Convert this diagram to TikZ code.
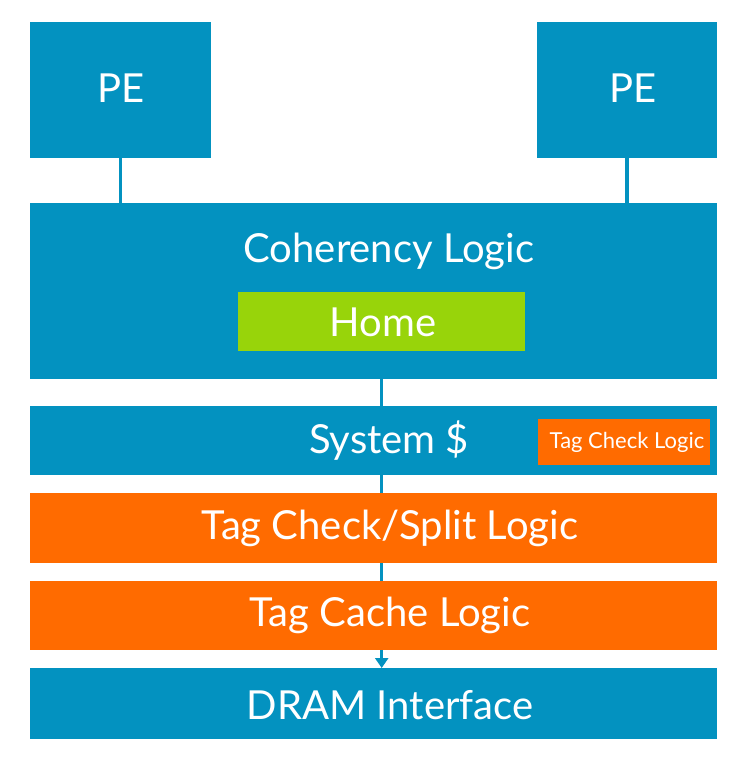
\documentclass[tikz,border=0pt]{standalone}
\usepackage{fontspec}
\setmainfont{Lato}
\usetikzlibrary{arrows.meta}
\definecolor{cblue}{HTML}{0392C0}
\definecolor{corange}{HTML}{FF6B00}
\definecolor{cgreen}{HTML}{98D40A}
\begin{document}
\begin{tikzpicture}[x=1pt,y=-1pt,
  blk/.style={fill=cblue, draw=none, inner sep=0pt, anchor=north west},
  oblk/.style={blk, fill=corange},
  gblk/.style={blk, fill=cgreen},
  lbl/.style={text=white, inner sep=0pt, font=\fontsize{40}{44}\selectfont},
  slbl/.style={text=white, inner sep=0pt, font=\fontsize{22}{25}\selectfont},
  link/.style={draw=cblue, line width=3.5pt}]
\useasboundingbox (0,0) rectangle (733,757);
% boxes
\node[blk, minimum width=181pt, minimum height=136pt] (pe1) at (30,22) {};
\node[blk, minimum width=180pt, minimum height=136pt] (pe2) at (537,22) {};
\node[blk, minimum width=687pt, minimum height=176pt] (coh) at (30,203) {};
\node[gblk, minimum width=287pt, minimum height=59pt] (home) at (238,292) {};
\node[blk, minimum width=687pt, minimum height=69pt] (sys) at (30,406) {};
\node[oblk, minimum width=172pt, minimum height=46pt] (tcl) at (538,419) {};
\node[oblk, minimum width=687pt, minimum height=70pt] (split) at (30,493) {};
\node[oblk, minimum width=687pt, minimum height=69pt] (tcache) at (30,581) {};
\node[blk, minimum width=687pt, minimum height=71pt] (dram) at (30,668) {};
% labels
\node[lbl] (pe1t) at (121,88) {PE};
\node[lbl] (pe2t) at (633,88) {PE};
\node[lbl] (coht) at (389,251) {Coherency Logic};
\node[lbl] (homet) at (383,322) {Home};
\node[lbl] (syst) at (389,441) {System \$};
\node[slbl] (tclt) at (627,442) {Tag Check Logic};
\node[lbl] (splitt) at (390,528) {Tag Check/Split Logic};
\node[lbl] (tcachet) at (390,615) {Tag Cache Logic};
\node[lbl] (dramt) at (390,705) {DRAM Interface};
% connectors
\draw[link] (pe1.south) -- (pe1.south |- coh.north);
\draw[link] (pe2.south) -- (pe2.south |- coh.north);
\draw[link] (home.south |- coh.south) -- (home.south |- sys.north);
\draw[link] (home.south |- sys.south) -- (home.south |- split.north);
\draw[link] (home.south |- split.south) -- (home.south |- tcache.north);
\draw[link, -{Triangle[width=13pt,length=10pt]}] (home.south |- tcache.south) -- (home.south |- dram.north);
\end{tikzpicture}
\end{document}
